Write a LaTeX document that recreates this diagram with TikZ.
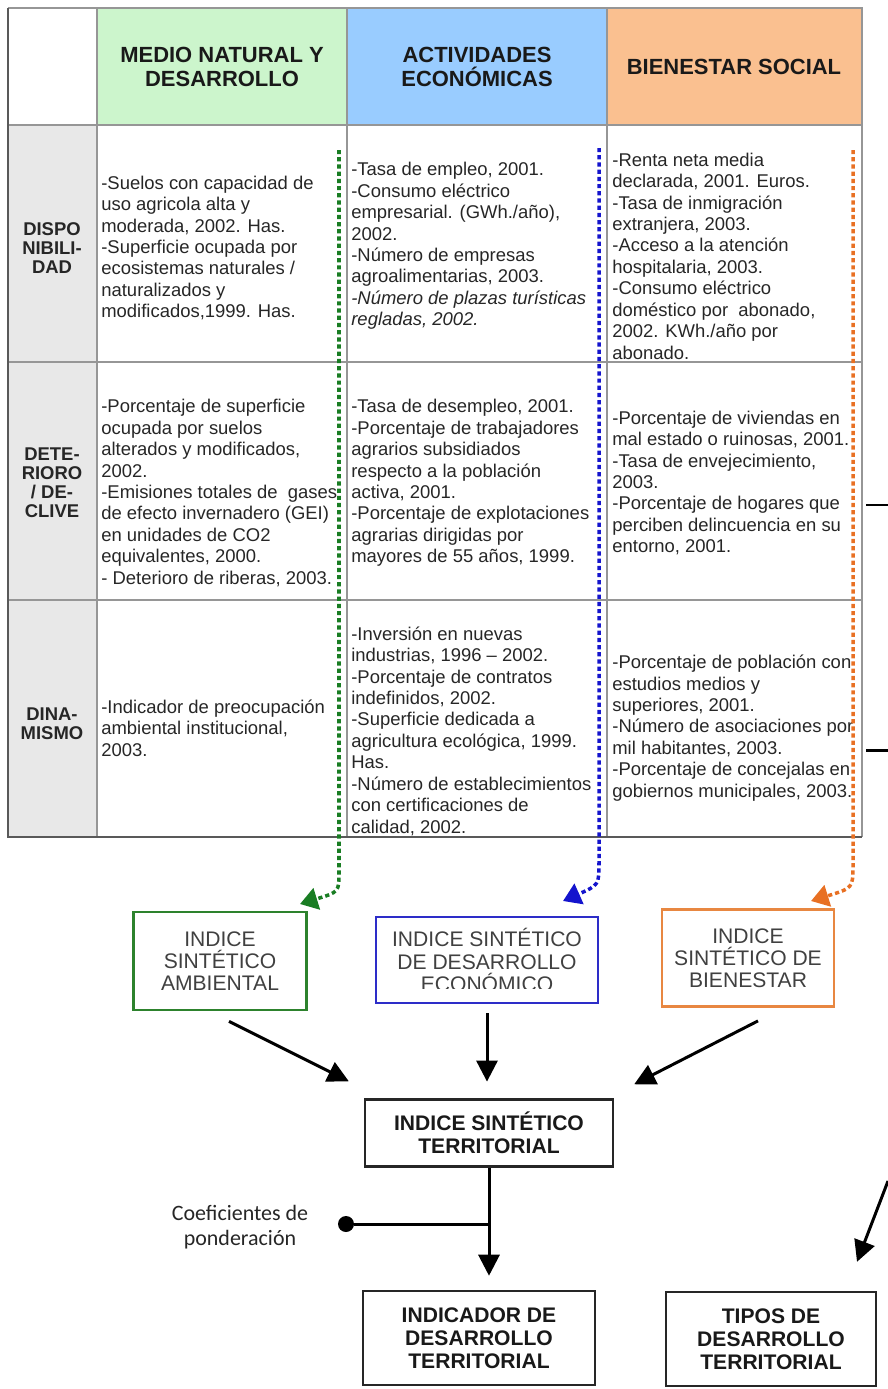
\documentclass[tikz,border=0pt]{standalone}
\usepackage{fontspec}
\setmainfont{Liberation Sans}
\newfontfamily\calib{Carlito}
\usetikzlibrary{arrows.meta}

\definecolor{hdrgreen}{RGB}{204,245,204}
\definecolor{hdrblue}{RGB}{153,204,255}
\definecolor{hdrorange}{RGB}{250,192,144}
\definecolor{lblgray}{RGB}{232,232,232}
\definecolor{gridgray}{RGB}{150,150,150}
\definecolor{dotgreen}{RGB}{25,125,35}
\definecolor{dotblue}{RGB}{20,20,205}
\definecolor{dotorange}{RGB}{232,112,35}
\definecolor{boxgreen}{RGB}{45,130,45}
\definecolor{boxblue}{RGB}{45,45,200}
\definecolor{boxorange}{RGB}{232,135,65}

\tikzset{
  cell/.style={anchor=west, align=left, inner sep=0pt,
    font=\fontsize{10.5}{12.2}\selectfont, text=black!85},
  rowlbl/.style={align=center, inner sep=0pt,
    font=\bfseries\fontsize{10.5}{10.8}\selectfont, text=black!85},
  hdr/.style={align=center, inner sep=0pt,
    font=\bfseries\fontsize{12.5}{13.2}\selectfont, text=black!90},
  idxbox/.style={draw, line width=1.6pt, align=center, inner sep=0pt,
    font=\fontsize{12}{12.6}\selectfont, text=black!75},
  resbox/.style={draw=black!85, line width=1.4pt, align=center, inner sep=0pt,
    font=\bfseries\fontsize{12}{13.2}\selectfont, text=black!90},
  dotline/.style={line width=2pt, dash pattern=on 2.4pt off 1.7pt,
    -{Triangle[length=10pt,width=12.5pt]}},
  blkarrow/.style={line width=1.7pt, -{Triangle[length=12pt,width=12pt]}},
}

\begin{document}
\begin{tikzpicture}[x=0.02cm, y=-0.02cm]
	\useasboundingbox (0,0) rectangle (887,1389);

	% table
	\fill[hdrgreen] (97,8) rectangle (347,125);
	\fill[hdrblue] (347,8) rectangle (607,125);
	\fill[hdrorange] (607,8) rectangle (862,125);
	\fill[lblgray] (8,125) rectangle (97,837);
	\foreach \y in {125,362,600}
		\draw[gridgray, line width=0.8pt] (8,\y) -- (862,\y);
	\foreach \x in {97,347,607}
		\draw[gridgray, line width=0.8pt] (\x,8) -- (\x,837);
	\draw[gridgray, line width=0.8pt] (8,8) -- (862,8) -- (862,837);
	\draw[black!65, line width=1.3pt] (8,8) -- (8,837) -- (862,837);

	\node[hdr] (hmedio) at (222,67) {MEDIO NATURAL Y\\DESARROLLO};
	\node[hdr] (hactiv) at (477,67) {ACTIVIDADES\\ECONÓMICAS};
	\node[hdr] (hbien) at (734,67) {BIENESTAR SOCIAL};

	\node[rowlbl] (ldisp) at (52,248) {DISPO\\NIBILI-\\DAD};
	\node[rowlbl] (ldete) at (52,483) {DETE-\\RIORO\\/ DE-\\CLIVE};
	\node[rowlbl] (ldina) at (52,724) {DINA-\\MISMO};

	\node[cell] (dispmed) at (101,248) {-Suelos con capacidad de\\uso agricola alta y\\moderada, 2002. Has.\\-Superficie ocupada por\\ecosistemas naturales /\\naturalizados y\\modificados,1999. Has.};
	\node[cell] (dispact) at (351,246) {-Tasa de empleo, 2001.\\-Consumo eléctrico\\empresarial. (GWh./año),\\2002.\\-Número de empresas\\agroalimentarias, 2003.\\\textit{-Número de plazas turísticas}\\\textit{regladas, 2002.}};
	\node[cell] (dispbien) at (612,256) {-Renta neta media\\declarada, 2001. Euros.\\-Tasa de inmigración\\extranjera, 2003.\\-Acceso a la atención\\hospitalaria, 2003.\\-Consumo eléctrico\\doméstico por\ \ abonado,\\2002. KWh./año por\\abonado.};

	\node[cell] (detemed) at (101,493) {-Porcentaje de superficie\\ocupada por suelos\\alterados y modificados,\\2002.\\-Emisiones totales de\ \ gases\\de efecto invernadero (GEI)\\en unidades de CO2\\equivalentes, 2000.\\- Deterioro de riberas, 2003.};
	\node[cell] (deteact) at (351,483) {-Tasa de desempleo, 2001.\\-Porcentaje de trabajadores\\agrarios subsidiados\\respecto a la población\\activa, 2001.\\-Porcentaje de explotaciones\\agrarias dirigidas por\\mayores de 55 años, 1999.};
	\node[cell] (detebien) at (612,483) {-Porcentaje de viviendas en\\mal estado o ruinosas, 2001.\\-Tasa de envejecimiento,\\2003.\\-Porcentaje de hogares que\\perciben delincuencia en su\\entorno, 2001.};

	\node[cell] (dinamed) at (101,728) {-Indicador de preocupación\\ambiental institucional,\\2003.};
	\node[cell] (dinaact) at (351,731) {-Inversión en nuevas\\industrias, 1996 – 2002.\\-Porcentaje de contratos\\indefinidos, 2002.\\-Superficie dedicada a\\agricultura ecológica, 1999.\\Has.\\-Número de establecimientos\\con certificaciones de\\calidad, 2002.};
	\node[cell] (dinabien) at (612,728) {-Porcentaje de población con\\estudios medios y\\superiores, 2001.\\-Número de asociaciones por\\mil habitantes, 2003.\\-Porcentaje de concejalas en\\gobiernos municipales, 2003.};

	% synthetic indices
	\node[idxbox, draw=boxgreen, minimum width=3.46cm, minimum height=1.96cm] (gia) at (220,961) {INDICE\\SINTÉTICO\\AMBIENTAL};
	\node[idxbox, draw=boxblue, minimum width=4.44cm, minimum height=1.72cm] (ise) at (487,960) {INDICE SINTÉTICO\\DE DESARROLLO\\ECONÓMICO};
	\fill[white] (380,989) rectangle (594,1000);
	\node[idxbox, draw=boxorange, minimum width=3.44cm, minimum height=1.94cm] (gib) at (748,958) {INDICE\\SINTÉTICO DE\\BIENESTAR};

	\coordinate (gtop) at (339,150);
	\coordinate (btop) at (599,148);
	\coordinate (otop) at (853,150);
	\draw[dotline, dotgreen] (gtop) -- (339,872) .. controls (339,892) .. (300,904);
	\draw[dotline, dotblue] (btop) -- (599,862) .. controls (599,885) .. (563,901);
	\draw[dotline, dotorange] (otop) -- (853,865) .. controls (853,888) .. (811,901);

	% results
	\node[resbox, minimum width=4.96cm, minimum height=1.34cm] (ist) at (489,1133) {INDICE SINTÉTICO\\TERRITORIAL};
	\node[resbox, minimum width=4.64cm, minimum height=1.88cm] (idt) at (479,1338) {INDICADOR DE\\DESARROLLO\\TERRITORIAL};
	\node[resbox, minimum width=4.2cm, minimum height=1.88cm] (tdt) at (771,1339) {TIPOS DE\\DESARROLLO\\TERRITORIAL};

	\draw[blkarrow] ([shift={(9,10)}]gia.south) -- ([shift={(-15,-17)}]ist.north west);
	\draw[blkarrow, shorten <=5pt, shorten >=9.5pt] (ise.south) -- (ise.south |- ist.north);
	\draw[blkarrow] ([shift={(10,13)}]gib.south) -- ([shift={(20,-14)}]ist.north east);

	\coordinate (jn) at (ist.south |- 0,1224);
	\draw[blkarrow, shorten >=8pt] (ist.south) -- (ist.south |- idt.north);
	\node[circle, fill=black, inner sep=0pt, minimum size=0.32cm] (cdot) at (346,1224) {};
	\draw[line width=1.7pt] (cdot) -- (jn);
	\node[align=center, inner sep=0pt, font=\calib\fontsize{12.5}{14.2}\selectfont, text=black!85] (coef) at (240,1227) {Coeficientes de\\ponderación};

	% cut at the right edge
	\coordinate (stubA) at (866,505);
	\coordinate (edgeA) at (890,505);
	\coordinate (stubB) at (866,750);
	\coordinate (edgeB) at (890,750);
	\coordinate (edgeC) at (888,1181);
	\draw[line width=1.7pt] (stubA) -- (edgeA);
	\draw[line width=1.7pt] (stubB) -- (edgeB);
	\draw[blkarrow] (edgeC) -- ([shift={(86,-29)}]tdt.north);
\end{tikzpicture}
\end{document}
